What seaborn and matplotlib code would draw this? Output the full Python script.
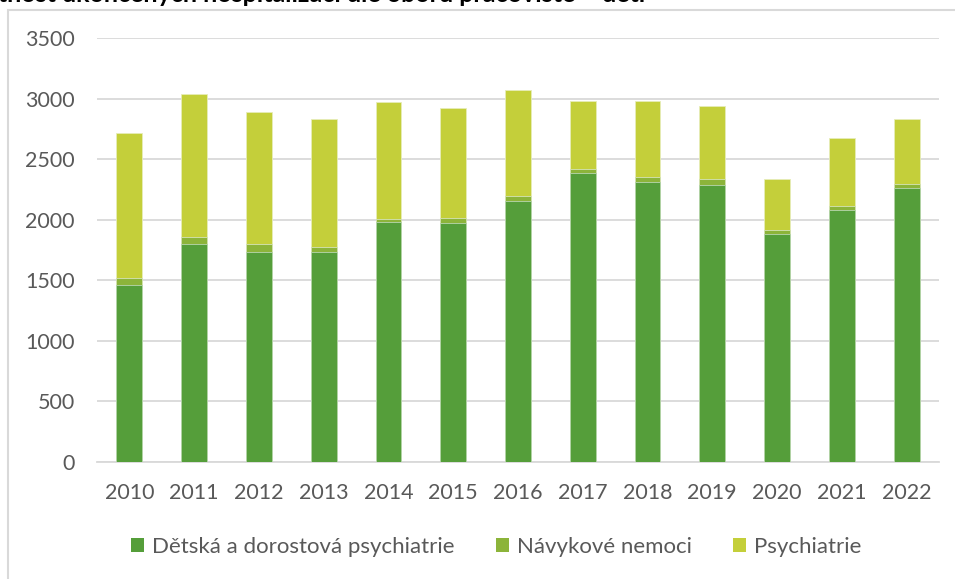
import numpy as np
import pandas as pd
import matplotlib
matplotlib.use("Agg")
import matplotlib.pyplot as plt
from matplotlib.patches import Rectangle, Patch
import seaborn as sns

# Data
years = ["2010", "2011", "2012", "2013", "2014", "2015", "2016",
         "2017", "2018", "2019", "2020", "2021", "2022"]
detska = [1464, 1797, 1731, 1731, 1984, 1976, 2158, 2389, 2315, 2290, 1885, 2083, 2265]
navykove = [55, 63, 72, 42, 22, 41, 36, 33, 41, 49, 33, 28, 28]
psychiatrie = [1197, 1179, 1087, 1059, 967, 903, 880, 556, 625, 601, 416, 564, 539]

series_names = ["Dětská a dorostová psychiatrie", "Návykové nemoci", "Psychiatrie"]
colors = ["#559E3A", "#8CB43A", "#C4CF3A"]

df = pd.DataFrame({"rok": years, "detska": detska,
                   "navykove": navykove, "psychiatrie": psychiatrie})
df["stack2"] = df["detska"] + df["navykove"]
df["stack3"] = df["stack2"] + df["psychiatrie"]

sns.set_style("white")
plt.rcParams["font.family"] = ["Lato", "DejaVu Sans"]

fig = plt.figure(figsize=(9.55, 5.79), dpi=100)
ax = fig.add_axes([97 / 955, 117 / 579, 842 / 955, 424 / 579])

# Stacked bars: draw cumulative totals from the top down
sns.barplot(data=df, x="rok", y="stack3", color=colors[2], width=0.4,
            saturation=1, edgecolor="#E6EDB8", linewidth=0.6, ax=ax, zorder=3)
sns.barplot(data=df, x="rok", y="stack2", color=colors[1], width=0.4,
            saturation=1, edgecolor="#D5E3B8", linewidth=0.6, ax=ax, zorder=3)
sns.barplot(data=df, x="rok", y="detska", color=colors[0], width=0.4,
            saturation=1, edgecolor="#B8D6AE", linewidth=0.6, ax=ax, zorder=3)

ax.set_ylim(0, 3500)
ax.set_xlim(-0.5, len(years) - 0.5)
ax.set_yticks(np.arange(0, 3501, 500))
ax.yaxis.grid(True, color="#D9D9D9", linewidth=1.3, zorder=0)
ax.set_axisbelow(True)
for side in ["top", "right", "left"]:
    ax.spines[side].set_visible(False)
ax.spines["bottom"].set_color("#D9D9D9")
ax.spines["bottom"].set_linewidth(1.3)
ax.tick_params(axis="both", length=0, labelsize=15.5, labelcolor="#595959")
ax.tick_params(axis="y", pad=16)
ax.tick_params(axis="x", pad=15)
ax.set_xlabel("")
ax.set_ylabel("")

handles = [Patch(facecolor=c, edgecolor="none") for c in colors]
fig.legend(handles, series_names, loc="center", bbox_to_anchor=(496 / 955, 1 - 547 / 579),
           ncol=3, frameon=False, fontsize=16, labelcolor="#595959",
           handlelength=0.6, handleheight=0.6, handletextpad=0.35, columnspacing=1.85)

# Chart frame border
fig.patches.append(Rectangle((8 / 955, -0.2), 2.0, 1.2 - 10 / 579,
                             transform=fig.transFigure, fill=False,
                             edgecolor="#D9D9D9", linewidth=1.5))

# Title cut off at the top edge
fig.text(645 / 955, 1 - 2 / 579, "Četnost ukončených hospitalizací dle oboru pracoviště – děti",
         ha="right", va="baseline", fontsize=18, fontweight="bold", color="black")

fig.savefig("out.png", dpi=100)
